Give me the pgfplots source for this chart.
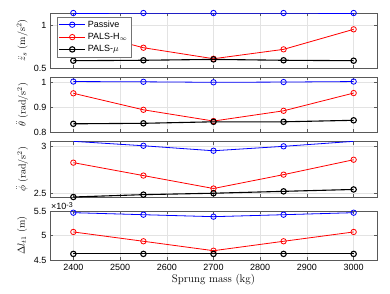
\documentclass[border=0pt]{standalone}
\usepackage{pgfplots}
\pgfplotsset{compat=1.18}
\usepackage{fontspec}
\newfontfamily\arial{Liberation Sans}
\begin{document}
\begin{tikzpicture}
\useasboundingbox (0pt,0pt) rectangle (390pt,293pt);
\pgfplotsset{
  every axis/.append style={
    scale only axis, width=327pt,
    xmin=2350, xmax=3050,
    xtick={2400,2500,...,3000},
    grid=major, major grid style={gray!22, line width=0.4pt},
    axis line style={black!65, line width=0.5pt},
    tick style={black!65, line width=0.5pt},
    tick align=inside, major tick length=3pt,
    ticklabel style={font=\fontsize{9}{10}\selectfont\arial},
    /pgf/number format/assume math mode=true,
    yticklabel style={/pgf/number format/fixed},
    xticklabel style={/pgf/number format/set thousands separator={}},
    label style={font=\fontsize{11}{13}\selectfont},
    every axis y label/.style={at={(axis description cs:-0.085,0.5)},rotate=90,anchor=center},
    clip mode=individual,
    anchor=south west,
  },
  pas/.style={blue, line width=0.8pt, mark=o, mark size=2.7pt, mark options={solid,line width=0.8pt}},
  hinf/.style={red, line width=0.8pt, mark=o, mark size=2.7pt, mark options={solid,line width=0.8pt}},
  mu/.style={black, line width=1.1pt, mark=o, mark size=2.7pt, mark options={solid,line width=1.1pt}},
}
% Panel 1
\begin{axis}[at={(50pt,225pt)}, height=55pt,
  ymin=0.5, ymax=1.14, ytick={0.5,1}, xticklabels={},
  ylabel={$\ddot{z}_s\ (\mathrm{m/s^2})$},
  legend style={at={(axis description cs:0,1)}, anchor=north west, xshift=7pt, yshift=-4pt,
    draw=black!55, fill=white, font=\fontsize{9}{10}\selectfont\arial, row sep=0.5pt,
    inner sep=1.5pt},
  legend cell align=left,
  legend image code/.code={\draw[mark repeat=2,mark phase=2] plot coordinates {(0pt,0pt) (13pt,0pt) (26pt,0pt)};},
]
\addplot[pas] coordinates {(2400,1.14) (2550,1.14) (2700,1.14) (2850,1.14) (3000,1.14)};
\addplot[hinf] coordinates {(2400,0.95) (2550,0.736) (2700,0.608) (2850,0.717) (3000,0.95)};
\addplot[mu] coordinates {(2400,0.585) (2550,0.59) (2700,0.60) (2850,0.59) (3000,0.585)};
\legend{Passive, PALS-H$_\infty$, PALS-$\mu$}
\end{axis}
% Panel 2
\begin{axis}[at={(50pt,160.7pt)}, height=55pt,
  ymin=0.8, ymax=1.02, ytick={0.8,0.9,1}, xticklabels={},
  ylabel={$\ddot{\theta}\ (\mathrm{rad/s^2})$},
]
\addplot[pas] coordinates {(2400,1.003) (2550,1.002) (2700,1.0) (2850,1.001) (3000,1.003)};
\addplot[hinf] coordinates {(2400,0.956) (2550,0.890) (2700,0.845) (2850,0.886) (3000,0.957)};
\addplot[mu] coordinates {(2400,0.834) (2550,0.836) (2700,0.842) (2850,0.842) (3000,0.848)};
\end{axis}
% Panel 3
\begin{axis}[at={(50pt,96pt)}, height=55.3pt,
  ymin=2.46, ymax=3.046, ytick={2.5,3}, xticklabels={},
  ylabel={$\ddot{\phi}\ (\mathrm{rad/s^2})$},
]
\addplot[pas] coordinates {(2400,3.05) (2550,3.003) (2700,2.95) (2850,2.997) (3000,3.05)};
\addplot[hinf] coordinates {(2400,2.824) (2550,2.687) (2700,2.55) (2850,2.697) (3000,2.855)};
\addplot[mu] coordinates {(2400,2.46) (2550,2.485) (2700,2.50) (2850,2.52) (3000,2.54)};
\end{axis}
% Panel 4
\begin{axis}[at={(50pt,32.7pt)}, height=49.3pt,
  ymin=4.5, ymax=5.5, ytick={4.5,5,5.5}, yticklabels={4.5,5,5.5},
  ylabel={$\Delta l_{t1}\ (\mathrm{m})$},
  xlabel={Sprung mass (kg)},
  xlabel style={yshift=3pt},
]
\addplot[pas] coordinates {(2400,5.466) (2550,5.425) (2700,5.385) (2850,5.425) (3000,5.466)};
\addplot[hinf] coordinates {(2400,5.075) (2550,4.886) (2700,4.695) (2850,4.886) (3000,5.075)};
\addplot[mu] coordinates {(2400,4.63) (2550,4.63) (2700,4.63) (2850,4.63) (3000,4.63)};
\node[anchor=south west, inner sep=1pt, font=\fontsize{9}{10}\selectfont\arial] at (rel axis cs:0,1) {×10\raisebox{0.5ex}{\fontsize{7}{8}\selectfont -3}};
\end{axis}
\end{tikzpicture}
\end{document}
